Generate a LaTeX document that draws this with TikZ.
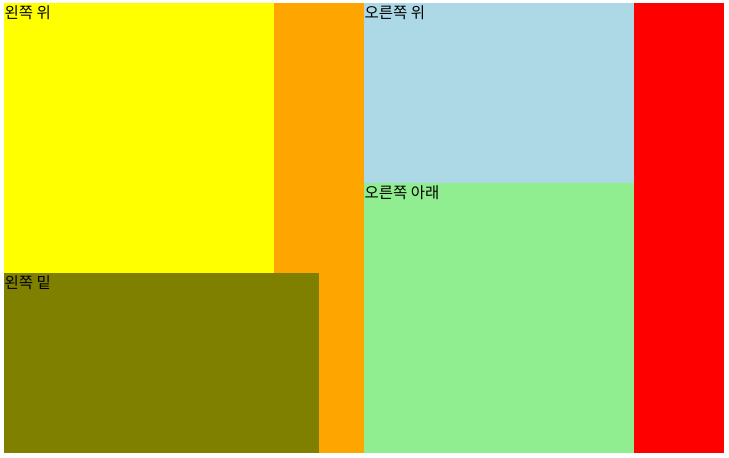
\documentclass[tikz,border=0pt]{standalone}
\usepackage{fontspec}
\newfontfamily\kr{Noto Sans CJK KR}
\definecolor{cyel}{HTML}{FFFF00}
\definecolor{corange}{HTML}{FFA500}
\definecolor{colive}{HTML}{808000}
\definecolor{clblue}{HTML}{ADD8E6}
\definecolor{clgreen}{HTML}{90EE90}
\definecolor{cred}{HTML}{FF0000}
\tikzset{lbl/.style={anchor=north west,inner sep=0pt,font=\kr\fontsize{15.5}{18}\selectfont,text=black}}
\begin{document}
\begin{tikzpicture}[x=1pt,y=-1pt]
\useasboundingbox (0,0) rectangle (729,458);
\fill[white] (0,0) rectangle (729,458);
\fill[corange] (4,3) rectangle (364,453);
\fill[cyel] (4,3) rectangle (274,273);
\fill[colive] (4,273) rectangle (319,453);
\fill[clblue] (364,3) rectangle (634,183);
\fill[clgreen] (364,183) rectangle (634,453);
\fill[cred] (634,3) rectangle (724,453);
\node[lbl] (lt) at (4.5,5) {왼쪽 위};
\node[lbl] (lb) at (4.5,275) {왼쪽 밑};
\node[lbl] (rt) at (364.5,5) {오른쪽 위};
\node[lbl] (rb) at (364.5,185) {오른쪽 아래};
\end{tikzpicture}
\end{document}
